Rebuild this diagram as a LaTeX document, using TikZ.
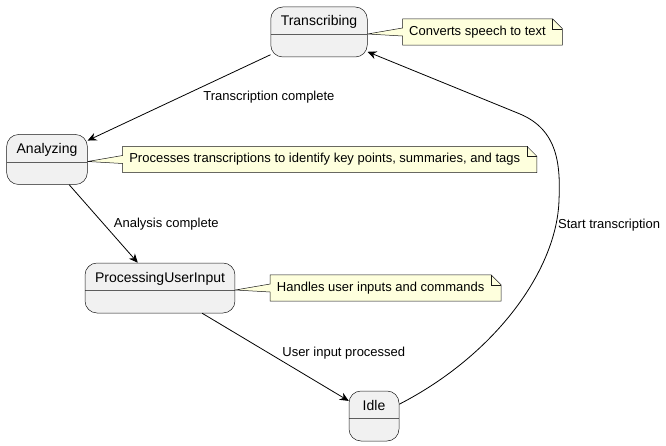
\documentclass[tikz,border=0pt]{standalone}
\usepackage{fontspec}
\setmainfont{Liberation Sans}
\usetikzlibrary{positioning,arrows.meta,backgrounds}
\definecolor{statefill}{HTML}{F1F1F1}
\definecolor{notefill}{HTML}{FEFFDD}
\definecolor{border}{HTML}{181818}

\begin{document}
\begin{tikzpicture}
    [ x = 1pt, y = -1pt
    , state/.style =
      { draw = border, fill = statefill, line width = .5pt
      , rounded corners = 12pt, minimum width = 50pt
      , inner xsep = 10pt, inner ysep = 0pt
      , text height = 19pt, text depth = 31pt
      , font = \fontsize{14}{16}\selectfont
      , path picture =
        { \draw [border!70, line width = .4pt]
            ([yshift=-27.5pt]path picture bounding box.north west) --
            ([yshift=-27.5pt]path picture bounding box.north east); }
      }
    , note/.style =
      { font = \fontsize{13}{15}\selectfont
      , inner xsep = 6.5pt, inner ysep = 6.5pt
      , text height = 10pt, text depth = 3pt }
    , notebody/.style =
      { draw = border, fill = notefill, line width = .5pt }
    , edge/.style =
      { draw, line width = .8pt
      , -{Stealth[length=9pt, width=8pt, inset=3pt]} }
    , edgelabel/.style =
      { font = \fontsize{13}{15}\selectfont, inner sep = 0pt }
    ]
    \useasboundingbox (0,0) rectangle (666,446);

    \node [state] (Transcribing) at (319,32) {Transcribing};
    \node [state] (Analyzing) at (47,159.5) {Analyzing};
    \node [state] (ProcessingUserInput) at (160,288) {ProcessingUserInput};
    \node [state] (Idle) at (374,416) {Idle};

    \node [note] (speechnote) [right=35pt of Transcribing] {Converts speech to text};
    \node [note] (tagnote) [right=35pt of Analyzing] {Processes transcriptions to identify key points, summaries, and tags};
    \node [note] (inputnote) [right=35pt of ProcessingUserInput] {Handles user inputs and commands};

    \begin{scope}[on background layer]
      \foreach \n/\s in {speechnote/Transcribing, tagnote/Analyzing, inputnote/ProcessingUserInput}
      {
        \draw [notebody] (\n.north west) -- (\n.north east)
          -- ([xshift=10pt, yshift=-10pt]\n.north east)
          -- ([xshift=10pt]\n.south east) -- (\n.south west)
          -- ([yshift=-4pt]\n.west) -- ([yshift=-2pt]\s.east)
          -- ([yshift=4pt]\n.west) -- cycle;
        \draw [border, line width = .5pt] (\n.north east)
          |- ([xshift=10pt, yshift=-10pt]\n.north east);
      }
    \end{scope}

    \draw [edge] (Transcribing) -- node [edgelabel, right=24pt] {Transcription complete} (Analyzing);
    \draw [edge] (Analyzing) -- node [edgelabel, right=10pt] {Analysis complete} (ProcessingUserInput);
    \draw [edge] (ProcessingUserInput) -- node [edgelabel, right=6.5pt, yshift=4pt] {User input processed} (Idle);
    \draw [edge] (Idle.25) .. controls (495,355) and (557,270) .. (559,200)
      .. controls (560.5,165) and (558,130) .. (520,114) -- (Transcribing);
    \node [edgelabel, anchor=west] (startlabel) at (558,225) {Start transcription};
\end{tikzpicture}
\end{document}
